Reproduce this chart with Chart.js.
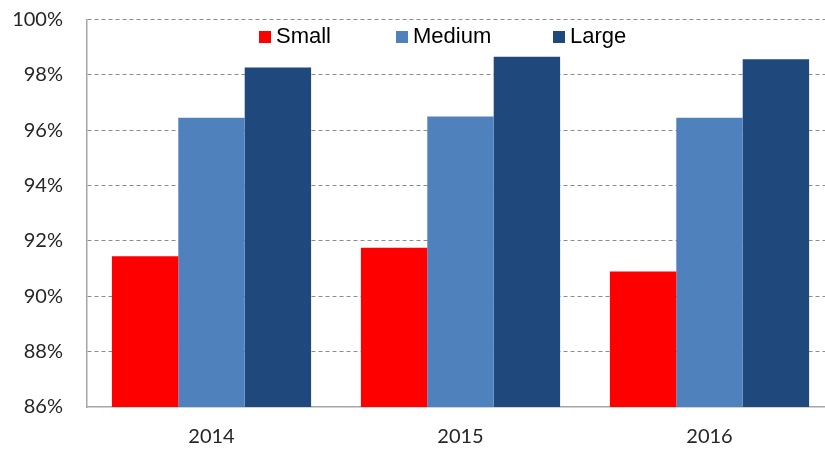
<!DOCTYPE html>
<html>
<head>
<meta charset="utf-8">
<script src="https://cdn.jsdelivr.net/npm/chart.js@4.4.0/dist/chart.umd.min.js"></script>
<style>
  html, body { margin: 0; padding: 0; background: #fff; overflow: hidden; }
  #wrap { width: 840px; height: 452px; }
</style>
</head>
<body>
<div id="wrap"><canvas id="chart" width="840" height="452"></canvas></div>
<script>
const years = ['2014', '2015', '2016'];
const small = [91.45, 91.75, 90.9];
const medium = [96.45, 96.5, 96.45];
const large = [98.27, 98.65, 98.56];
const yTicks = [86, 88, 90, 92, 94, 96, 98, 100];

// legend drawn inside the plot area, like the original
const innerLegend = {
  id: 'innerLegend',
  afterDraw(chart) {
    const ctx = chart.ctx;
    const xs = [259, 396, 553];
    ctx.save();
    ctx.font = '22px "Liberation Sans", Arial, sans-serif';
    ctx.textBaseline = 'middle';
    chart.data.datasets.forEach((ds, i) => {
      ctx.fillStyle = ds.backgroundColor;
      ctx.fillRect(xs[i], 31, 12, 12);
      ctx.fillStyle = '#000';
      ctx.fillText(ds.label, xs[i] + 17, 37);
    });
    ctx.restore();
  }
};

new Chart(document.getElementById('chart'), {
  type: 'bar',
  data: {
    labels: years,
    datasets: [
      { label: 'Small', data: small, backgroundColor: '#FF0000' },
      { label: 'Medium', data: medium, backgroundColor: '#4F81BD' },
      { label: 'Large', data: large, backgroundColor: '#1F497D' }
    ]
  },
  options: {
    responsive: false,
    animation: false,
    layout: { padding: { top: 19.5, right: 6, bottom: 0, left: 0 } },
    datasets: { bar: { barPercentage: 1, categoryPercentage: 0.8, borderWidth: 0 } },
    plugins: { legend: { display: false }, tooltip: { enabled: false } },
    scales: {
      x: {
        grid: { display: false, drawTicks: false },
        border: { color: '#a6a6a6', width: 1.5 },
        ticks: { color: '#262626', font: { family: 'Lato, "Open Sans", sans-serif', size: 20 }, padding: 18 },
        afterFit: s => { s.height = 45; }
      },
      y: {
        min: 86,
        max: 100,
        afterBuildTicks: s => { s.ticks = yTicks.map(v => ({ value: v })); },
        grid: {
          color: c => c.tick.value === 86 ? 'rgba(0,0,0,0)' : '#8c8c8c',
          drawTicks: false,
          lineWidth: 1
        },
        border: { color: '#a6a6a6', width: 1.5, dash: [4, 3], dashOffset: 0 },
        ticks: {
          color: '#262626',
          font: { family: 'Lato, "Open Sans", sans-serif', size: 20 },
          padding: 24,
          callback: v => v + '%'
        },
        afterFit: s => { s.width = 87; s.paddingTop = 0; s.paddingBottom = 0; }
      }
    }
  },
  plugins: [innerLegend]
});
</script>
</body>
</html>
